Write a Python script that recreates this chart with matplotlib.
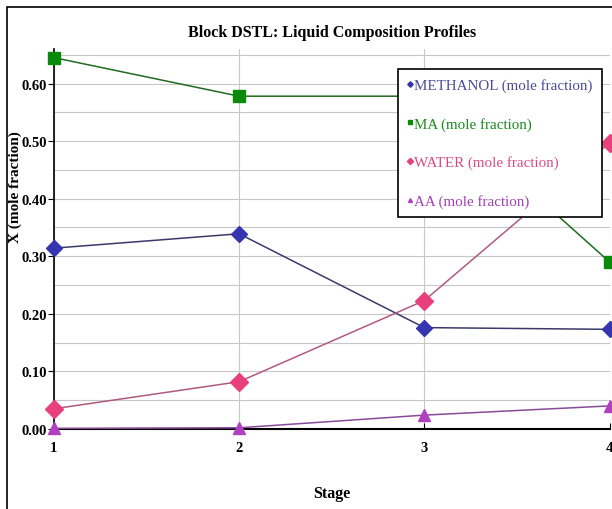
import matplotlib.pyplot as plt
from matplotlib.ticker import MultipleLocator
from matplotlib.patches import Rectangle

stages = [1, 2, 3, 4]
methanol = [0.314, 0.339, 0.176, 0.173]
ma = [0.645, 0.578, 0.578, 0.290]
water = [0.035, 0.082, 0.223, 0.497]
aa = [0.001, 0.002, 0.024, 0.040]

labels = ["METHANOL (mole fraction)", "MA (mole fraction)",
          "WATER (mole fraction)", "AA (mole fraction)"]
series = [methanol, ma, water, aa]
line_colors = ["#3a3a6a", "#1f6b1f", "#b05a80", "#8a4a9a"]
marker_colors = ["#3535b0", "#0a8a0a", "#e8407a", "#b040c0"]
text_colors = ["#4a4a9a", "#1a8a1a", "#d84c84", "#a040b0"]
markers = ["D", "s", "D", "^"]
msizes = [8, 9, 9, 8]

plt.rcParams['font.family'] = ['Liberation Serif', 'DejaVu Serif']

fig = plt.figure(figsize=(6.12, 5.1), dpi=100)
ax = fig.add_axes([0.088, 0.157, 0.908, 0.745])

for ys, lab, lc, mc, m, ms in zip(series, labels, line_colors, marker_colors, markers, msizes):
    ax.plot(stages, ys, color=lc, lw=1.1, marker=m, markersize=ms,
            markerfacecolor=mc, markeredgecolor=mc, label=lab, clip_on=False, zorder=3)

ax.set_xlim(1, 4)
ax.set_ylim(0, 0.66)
ax.yaxis.set_major_locator(MultipleLocator(0.1))
ax.yaxis.set_minor_locator(MultipleLocator(0.05))
ax.set_xticks(stages)
ax.grid(True, which='both', axis='y', color='#c8c8c8', lw=0.8)
ax.grid(True, which='major', axis='x', color='#c8c8c8', lw=0.8)
ax.tick_params(which='minor', length=0)
ax.tick_params(axis='y', length=4, direction='out', pad=1)
ax.tick_params(axis='x', length=4, direction='in', pad=9)
for t in ax.get_yticklabels() + ax.get_xticklabels():
    t.set_fontweight('bold')
    t.set_fontsize(10.5)
ax.yaxis.set_major_formatter(plt.FuncFormatter(lambda v, p: f"{v:.2f}"))

for s in ['top', 'right']:
    ax.spines[s].set_visible(False)
ax.spines['left'].set_linewidth(1.2)
ax.spines['bottom'].set_linewidth(1.5)

ax.set_title("Block DSTL: Liquid Composition Profiles", fontsize=11.5, fontweight='bold', pad=9)
ax.set_xlabel("Stage", fontsize=11.5, fontweight='bold', labelpad=22)
ax.set_ylabel("X (mole fraction)", fontsize=11, fontweight='bold')
ax.yaxis.set_label_coords(-0.057, 0.64)

leg = ax.legend(loc='upper left', bbox_to_anchor=(0.619, 0.947), fontsize=10.8,
                markerscale=0.35, handlelength=0.4, handletextpad=0.1,
                fancybox=False, framealpha=1, edgecolor='black',
                borderpad=0.6, labelspacing=1.65, borderaxespad=0)
leg.get_frame().set_linewidth(1.2)
for txt, c in zip(leg.get_texts(), text_colors):
    txt.set_color(c)
for h in leg.get_lines():
    h.set_linestyle('None')

fig.patches.append(Rectangle((0.012, -0.05), 1.1, 1.035, transform=fig.transFigure,
                             fill=False, edgecolor='black', lw=1.2))

fig.savefig("out.png", dpi=100)
